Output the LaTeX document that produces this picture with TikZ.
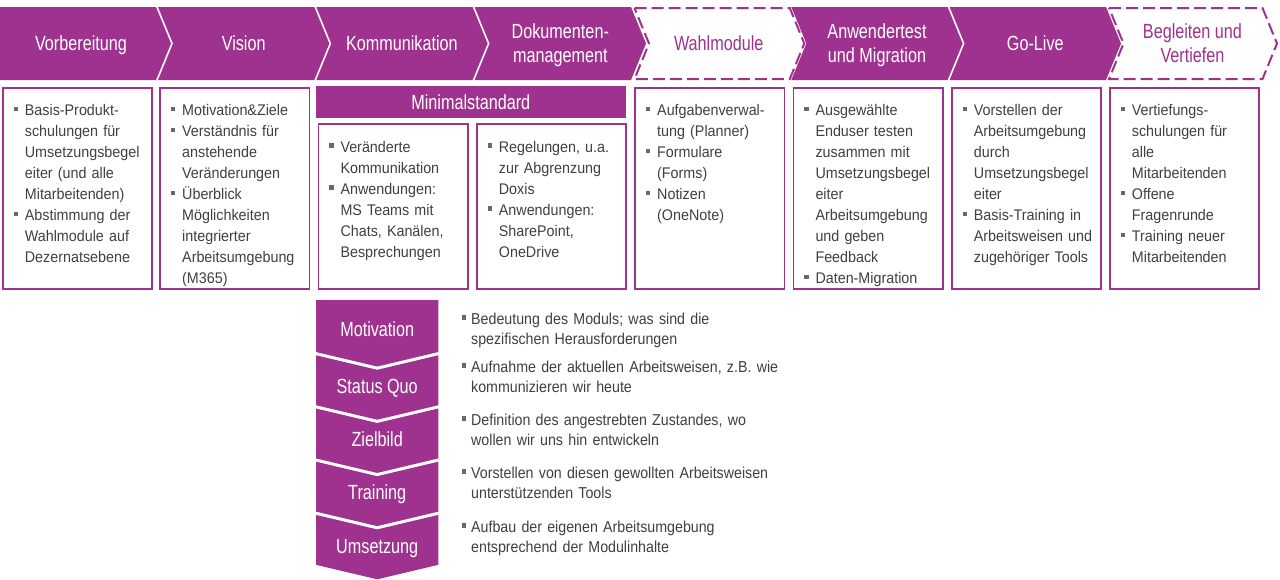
\documentclass[tikz,border=0pt]{standalone}
\usepackage{fontspec}
\setmainfont{Liberation Sans}[FakeStretch=0.93]
\newfontfamily\tfont{Liberation Sans}[FakeStretch=0.79]
\newfontfamily\bfont{Liberation Sans}[FakeStretch=0.9]
\definecolor{lila}{RGB}{159,50,143}
\definecolor{txt}{RGB}{64,64,64}
\definecolor{bulgray}{RGB}{105,105,105}
\newcommand\bsym{\textcolor{bulgray}{\rule[4.6pt]{4.4pt}{4.4pt}}}
\newcommand\fitem{\noindent\hangindent=11.2pt\hangafter=1\strut\makebox[11.2pt][l]{\bsym}}
\newcommand\bitem{\par\fitem}
\newcommand\gitem{\noindent\hangindent=9.5pt\hangafter=1\strut\makebox[9.5pt][l]{\bsym}}
\newcommand\nl{\newline}
\tikzset{
  chev/.style={fill=lila},
  chevd/.style={draw=lila, line width=2pt, dash pattern=on 12pt off 5pt, fill=white},
  ttl/.style={anchor=north, inner sep=0pt, align=center, font=\tfont\fontsize{20.5}{24.5}\selectfont, text=white},
  ttld/.style={ttl, text=lila},
  box/.style={draw=lila, line width=1.8pt},
  btxt/.style={anchor=north west, inner sep=0pt, text width=145pt, align=left, font=\fontsize{15.4}{21}\selectfont, text=txt},
  seg/.style={fill=lila},
  lbl/.style={anchor=base, inner sep=0pt, font=\tfont\fontsize{20.5}{24.5}\selectfont, text=white},
  btm/.style={anchor=north west, inner sep=0pt, text width=330pt, align=left, font=\bfont\fontsize{15.8}{20.7}\selectfont, text=txt}
}
\begin{document}
\begin{tikzpicture}[x=1pt,y=-1pt]
\fill[white] (0,0) rectangle (1280,579);
\useasboundingbox (0,0) rectangle (1280,579);

% ---- top chevrons ----
\fill[chev] (0,7) -- (156,7) -- (171,43.5) -- (156,80) -- (0,80) -- cycle;
\fill[chev] (158,7) -- (314.3,7) -- (329.3,43.5) -- (314.3,80) -- (158,80) -- (173,43.5) -- cycle;
\fill[chev] (316.3,7) -- (472.6,7) -- (487.6,43.5) -- (472.6,80) -- (316.3,80) -- (331.3,43.5) -- cycle;
\fill[chev] (474.6,7) -- (631,7) -- (646,43.5) -- (631,80) -- (474.6,80) -- (489.6,43.5) -- cycle;
\path[chevd] (634.5,8) -- (789.8,8) -- (804.3,43.5) -- (789.8,79) -- (634.5,79) -- (649,43.5) -- cycle;
\fill[chev] (791.3,7) -- (947.6,7) -- (962.6,43.5) -- (947.6,80) -- (791.3,80) -- (806.3,43.5) -- cycle;
\fill[chev] (949.6,7) -- (1106,7) -- (1121,43.5) -- (1106,80) -- (949.6,80) -- (964.6,43.5) -- cycle;
\path[chevd] (1109,8) -- (1262.5,8) -- (1277,43.5) -- (1262.5,79) -- (1109,79) -- (1123.5,43.5) -- cycle;

\node[ttl]  (t1) at (81,33.55)     {\strut Vorbereitung};
\node[ttl]  (t2) at (243.7,33.55)  {\strut Vision};
\node[ttl]  (t3) at (401.9,33.55)  {\strut Kommunikation};
\node[ttl]  (t4) at (560.3,20.65)  {\strut Dokumenten-\\\strut management};
\node[ttld] (t5) at (718.7,33.55)  {\strut Wahlmodule};
\node[ttl]  (t6) at (877,20.65)    {\strut Anwendertest\\\strut und Migration};
\node[ttl]  (t7) at (1035.3,33.55) {\strut Go-Live};
\node[ttld] (t8) at (1192.5,20.65) {\strut Begleiten und\\\strut Vertiefen};

% ---- boxes ----
\draw[box] (2.9,87.9) rectangle (152.1,289.1);
\draw[box] (160.2,87.9) rectangle (309.4,289.1);
\fill[lila] (316,86) rectangle (625.5,118.3);
\node[lbl] (ms) at (470.8,109) {Minimalstandard};
\draw[box] (318.5,123.9) rectangle (467.7,289.1);
\draw[box] (476.9,123.9) rectangle (626.1,289.1);
\draw[box] (635.2,87.9) rectangle (784.4,289.1);
\draw[box] (793.5,87.9) rectangle (942.7,289.1);
\draw[box] (951.9,87.9) rectangle (1101.1,289.1);
\draw[box] (1109.9,87.9) rectangle (1259.1,289.1);

\node[btxt] (x1) at (13.5,100.8) {\fitem Basis-Produkt-\nl schulungen für\nl Umsetzungsbegel\nl eiter (und alle\nl Mitarbeitenden)\bitem Abstimmung der\nl Wahlmodule auf\nl Dezernatsebene\par};
\node[btxt] (x2) at (170.8,100.8) {\fitem Motivation\&Ziele\bitem Verständnis für\nl anstehende\nl Veränderungen\bitem Überblick\nl Möglichkeiten\nl integrierter\nl Arbeitsumgebung\nl (M365)\par};
\node[btxt] (x3) at (329.1,137.3) {\fitem Veränderte\nl Kommunikation\bitem Anwendungen:\nl MS Teams mit\nl Chats, Kanälen,\nl Besprechungen\par};
\node[btxt] (x4) at (487.5,137.3) {\fitem Regelungen, u.a.\nl zur Abgrenzung\nl Doxis\bitem Anwendungen:\nl SharePoint,\nl OneDrive\par};
\node[btxt] (x5) at (645.8,100.8) {\fitem Aufgabenverwal-\nl tung (Planner)\bitem Formulare\nl (Forms)\bitem Notizen\nl (OneNote)\par};
\node[btxt] (x6) at (804.1,100.8) {\fitem Ausgewählte\nl Enduser testen\nl zusammen mit\nl Umsetzungsbegel\nl eiter\nl Arbeitsumgebung\nl und geben\nl Feedback\bitem Daten-Migration\par};
\node[btxt] (x7) at (962.5,100.8) {\fitem Vorstellen der\nl Arbeitsumgebung\nl durch\nl Umsetzungsbegel\nl eiter\bitem Basis-Training in\nl Arbeitsweisen und\nl zugehöriger Tools\par};
\node[btxt] (x8) at (1120.5,100.8) {\fitem Vertiefungs-\nl schulungen für\nl alle\nl Mitarbeitenden\bitem Offene\nl Fragenrunde\bitem Training neuer\nl Mitarbeitenden\par};

% ---- module stack ----
\fill[seg] (316,300) -- (438.3,300) -- (438.3,352) -- (377.2,366.5) -- (316,352) -- cycle;
\fill[seg] (316,355.3) -- (377.2,369.8) -- (438.3,355.3) -- (438.3,405.2) -- (377.2,419.7) -- (316,405.2) -- cycle;
\fill[seg] (316,408.5) -- (377.2,423) -- (438.3,408.5) -- (438.3,458.4) -- (377.2,472.9) -- (316,458.4) -- cycle;
\fill[seg] (316,461.7) -- (377.2,476.2) -- (438.3,461.7) -- (438.3,511.6) -- (377.2,526.1) -- (316,511.6) -- cycle;
\fill[seg] (316,514.9) -- (377.2,529.4) -- (438.3,514.9) -- (438.3,564.8) -- (377.2,579.3) -- (316,564.8) -- cycle;

\node[lbl] (m1) at (377.2,336.7) {Motivation};
\node[lbl] (m2) at (377.2,393)   {Status Quo};
\node[lbl] (m3) at (377.2,446)   {Zielbild};
\node[lbl] (m4) at (377.2,499.3) {Training};
\node[lbl] (m5) at (377.2,553)   {Umsetzung};

\node[btm] (b1) at (461.5,309.5) {\gitem Bedeutung des Moduls; was sind die\nl spezifischen Herausforderungen\par};
\node[btm] (b2) at (461.5,357.5) {\gitem Aufnahme der aktuellen Arbeitsweisen, z.B.\ wie\nl kommunizieren wir heute\par};
\node[btm] (b3) at (461.5,410.5) {\gitem Definition des angestrebten Zustandes, wo\nl wollen wir uns hin entwickeln\par};
\node[btm] (b4) at (461.5,463.5) {\gitem Vorstellen von diesen gewollten Arbeitsweisen\nl unterstützenden Tools\par};
\node[btm] (b5) at (461.5,517.5) {\gitem Aufbau der eigenen Arbeitsumgebung\nl entsprechend der Modulinhalte\par};
\end{tikzpicture}
\end{document}
